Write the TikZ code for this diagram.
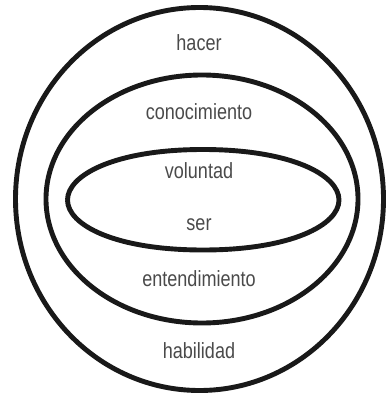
\documentclass[tikz,border=0pt]{standalone}
\usepackage{fontspec}
\setmainfont{Liberation Sans}[FakeStretch=0.82]
\usepackage{tikz}
\usetikzlibrary{positioning}
\definecolor{labelgray}{HTML}{4A4A4A}
\tikzset{
  ring/.style={black!90, line width=4.9pt},
  word/.style={anchor=base, text=labelgray, font=\fontsize{22}{22}\selectfont, inner sep=0pt}
}
\begin{document}
\begin{tikzpicture}[x=1pt, y=-1pt]
            \useasboundingbox (0,0) rectangle (387,396);
            \draw[ring] (199.5,199) ellipse [x radius=184, y radius=191.5];
            \draw[ring] (202,199) ellipse [x radius=156, y radius=124];
            \draw[ring] (67.5,200) .. controls (67.5,175) and (115,149.5) .. (203,149.5)
                                 .. controls (291,149.5) and (339,175) .. (339,200)
                                 .. controls (339,225) and (291,250) .. (203,250)
                                 .. controls (115,250) and (67.5,225) .. (67.5,200);
            \node[word] (hacer) at (199,51) {hacer};
            \node[word] (conoc) at (199,119) {conocimiento};
            \node[word] (volun) at (199,178) {voluntad};
            \node[word] (ser) at (199,230) {ser};
            \node[word] (enten) at (199,286) {entendimiento};
            \node[word] (habil) at (199,358) {habilidad};
        \end{tikzpicture}
\end{document}
